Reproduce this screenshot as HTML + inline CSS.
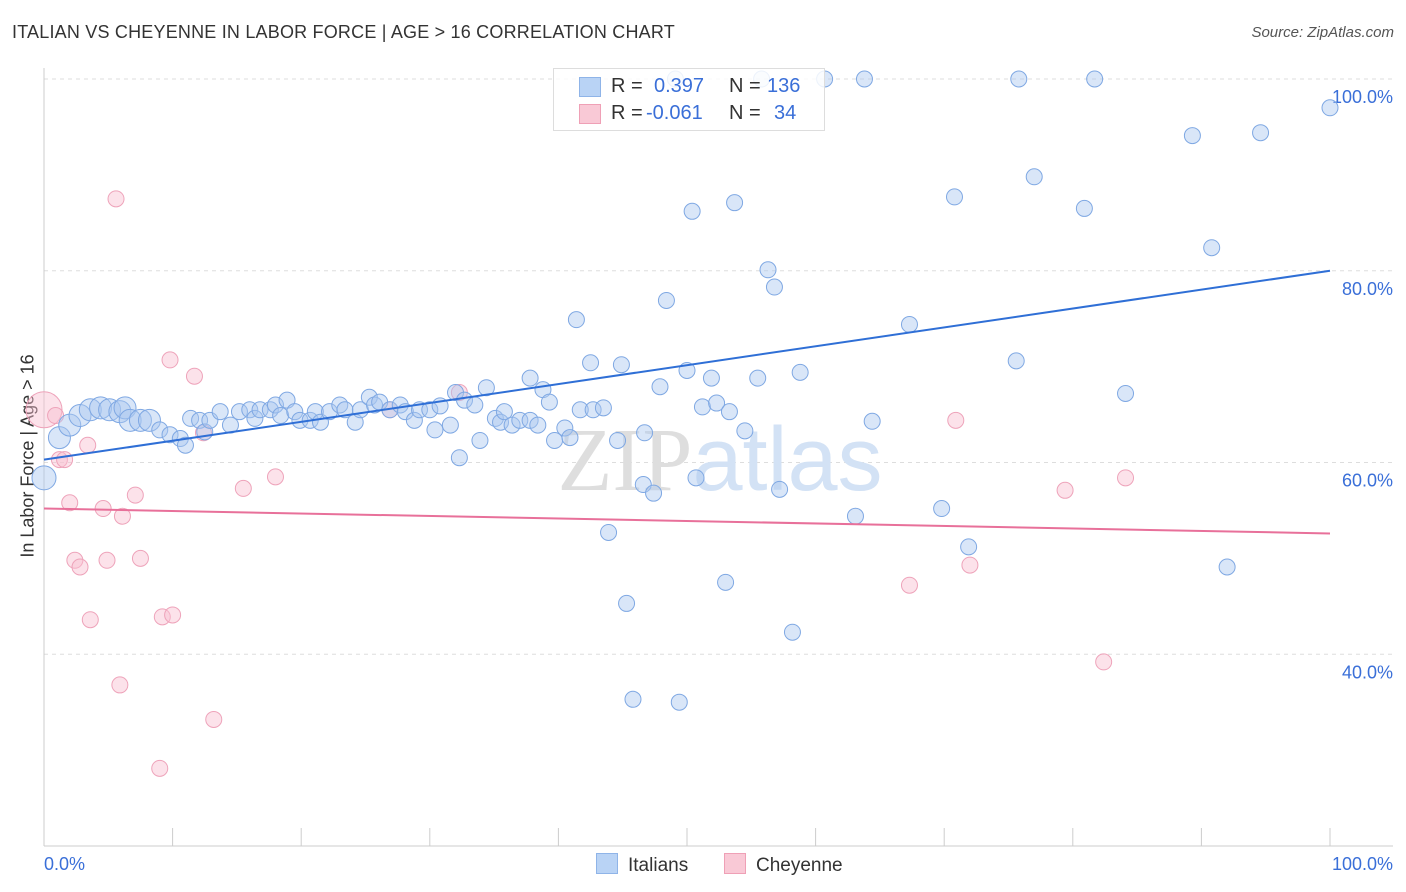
<!DOCTYPE html>
<html><head><meta charset="utf-8"><style>
body{margin:0;background:#fff;font-family:"Liberation Sans",sans-serif;}
#wrap{position:relative;width:1406px;height:892px;overflow:hidden;}
.t{position:absolute;white-space:nowrap;}
</style></head><body>
<div id="wrap">
<div class="t" style="left:12px;top:22px;font-size:18px;color:#333;letter-spacing:0.2px;">ITALIAN VS CHEYENNE IN LABOR FORCE | AGE &gt; 16 CORRELATION CHART</div>
<div class="t" style="right:12px;top:24px;font-size:15px;color:#555;font-style:italic;">Source: ZipAtlas.com</div>
<div class="t" style="left:28px;top:456px;font-size:18px;color:#333;transform:translate(-50%,-50%) rotate(-90deg);">In Labor Force | Age &gt; 16</div>
<svg id="svg" width="1406" height="892" style="position:absolute;left:0;top:0"></svg>
<div class="t" style="left:553px;top:68px;width:270px;height:61px;border:1px solid #ddd;background:rgba(255,255,255,0.85);font-size:20px;">
  <div style="position:absolute;left:25px;top:8px;width:20px;height:18px;background:#b9d3f5;border:1px solid #8fb4e8;"></div>
  <div class="t" style="left:57px;top:6px;color:#333;">R = </div><div class="t" style="left:100px;top:6px;color:#3a6fd8;">0.397</div>
  <div class="t" style="left:175px;top:6px;color:#333;">N = </div><div class="t" style="left:213px;top:6px;color:#3a6fd8;">136</div>
  <div style="position:absolute;left:25px;top:35px;width:20px;height:18px;background:#f9c9d6;border:1px solid #efa0b6;"></div>
  <div class="t" style="left:57px;top:33px;color:#333;">R = </div><div class="t" style="left:92px;top:33px;color:#3a6fd8;">-0.061</div>
  <div class="t" style="left:175px;top:33px;color:#333;">N = </div><div class="t" style="left:220px;top:33px;color:#3a6fd8;">34</div>
</div>
<div class="t" style="left:596px;top:853px;font-size:19px;color:#333;"><span style="display:inline-block;width:20px;height:19px;background:#b9d3f5;border:1px solid #8fb4e8;vertical-align:-3px;margin-right:10px;"></span>Italians</div>
<div class="t" style="left:724px;top:853px;font-size:19px;color:#333;"><span style="display:inline-block;width:20px;height:19px;background:#f9c9d6;border:1px solid #efa0b6;vertical-align:-3px;margin-right:10px;"></span>Cheyenne</div>
</div>
<script>
const yTicks=[40,60,80,100];
const yTickLabels=["40.0%","60.0%","80.0%","100.0%"];
const blueX=[0,1.2,2.0,2.8,3.6,4.4,5.1,5.9,6.3,6.7,7.5,8.2,9.0,9.8,10.6,11.0,11.4,12.1,12.5,12.9,13.7,14.5,15.2,16.0,16.4,16.8,17.6,18.0,18.4,18.9,19.5,19.9,20.7,21.1,21.5,22.2,23.0,23.4,24.2,24.6,25.3,25.7,26.1,26.9,27.7,28.1,28.8,29.2,30.0,30.4,30.8,31.6,32.0,32.3,32.7,33.5,33.9,34.4,35.1,35.5,35.8,36.4,37.0,37.8,37.8,38.4,38.8,39.3,39.7,40.5,40.9,41.4,41.7,42.5,42.7,43.5,43.9,44.6,44.9,45.3,45.8,46.6,46.7,47.4,47.9,48.4,49.4,50.0,50.4,50.7,51.2,51.9,52.3,53.0,53.3,53.7,54.5,55.5,56.3,56.8,57.2,58.2,58.8,60.7,63.1,63.8,64.4,67.3,69.8,70.8,71.9,75.6,75.8,77.0,80.9,81.7,84.1,89.3,90.8,92.0,94.6,100,49.1,55.8];
const blueY=[58.4,62.6,63.9,64.9,65.5,65.7,65.5,65.3,65.7,64.4,64.4,64.4,63.4,62.9,62.5,61.8,64.6,64.4,63.2,64.4,65.3,63.9,65.3,65.5,64.6,65.5,65.5,66.0,64.9,66.5,65.3,64.4,64.4,65.3,64.2,65.3,66.0,65.5,64.2,65.5,66.8,66.0,66.3,65.5,66.0,65.3,64.4,65.5,65.5,63.4,65.9,63.9,67.3,60.5,66.5,66.0,62.3,67.8,64.6,64.2,65.3,63.9,64.4,64.4,68.8,63.9,67.6,66.3,62.3,63.6,62.6,74.9,65.5,70.4,65.5,65.7,52.7,62.3,70.2,45.3,35.3,57.7,63.1,56.8,67.9,76.9,35.0,69.6,86.2,58.4,65.8,68.8,66.2,47.5,65.3,87.1,63.3,68.8,80.1,78.3,57.2,42.3,69.4,100,54.4,100,64.3,74.4,55.2,87.7,51.2,70.6,100,89.8,86.5,100,67.2,94.1,82.4,49.1,94.4,97.0,100,100];
const pinkX=[0,0.9,1.2,1.6,2.0,2.4,2.8,3.4,3.6,4.6,4.9,5.6,5.9,6.1,7.1,7.5,9.0,9.2,9.8,10.0,11.7,12.4,13.2,15.5,18.0,26.9,32.3,67.3,70.9,72.0,79.4,82.4,84.1];
const pinkY=[65.5,64.9,60.3,60.3,55.8,49.8,49.1,61.8,43.6,55.2,49.8,87.5,36.8,54.4,56.6,50.0,28.1,43.9,70.7,44.1,69.0,63.1,33.2,57.3,58.5,65.5,67.3,47.2,64.4,49.3,57.1,39.2,58.4];
const blueTrend=[60.3,80.0];
const pinkTrend=[55.2,52.6];
const X0=44,X1=1330,Y100=79,Y20=846;
const sx=v=>X0+(X1-X0)*v/100;
const sy=v=>Y20-(Y20-Y100)*(v-20)/80;
const svg=document.getElementById('svg');
const NS='http://www.w3.org/2000/svg';
function mk(tag,attrs){const e=document.createElementNS(NS,tag);for(const k in attrs)e.setAttribute(k,attrs[k]);svg.appendChild(e);return e;}
yTicks.forEach((t,i)=>{
  const g=mk('line',{x1:44,x2:1393,y1:sy(t),y2:sy(t),stroke:'#ddd','stroke-dasharray':'4,4'});
  
  
  const tx=mk('text',{x:1393,y:sy(t)+24,'text-anchor':'end','font-size':18,fill:'#3a6fd8','font-family':'Liberation Sans, sans-serif'});
  tx.textContent=yTickLabels[i];
  
  
});
const ax=mk('line',{x1:44,x2:44,y1:68,y2:846,stroke:'#ccc'});


const bx=mk('line',{x1:44,x2:1393,y1:846,y2:846,stroke:'#ccc'});


for(let i=1;i<=10;i++){const tk=mk('line',{x1:sx(i*10),x2:sx(i*10),y1:828,y2:846,stroke:'#ccc'});

}
[['0.0%',44,'start'],['100.0%',1393,'end']].forEach(a=>{const t=mk('text',{x:a[1],y:870,'text-anchor':a[2],'font-size':18,fill:'#3a6fd8','font-family':'Liberation Sans, sans-serif'});t.textContent=a[0];

});
const wm=mk('text',{x:720,y:490,'text-anchor':'middle','font-size':90,'font-family':'Liberation Sans, sans-serif'});
wm.innerHTML='<tspan fill="#dedede" font-family="Liberation Serif, serif">ZIP</tspan><tspan fill="#d3e2f5">atlas</tspan>';


pinkX.forEach((x,i)=>{const c=mk('circle',{cx:sx(x),cy:sy(pinkY[i]),r:i==0?18:8,fill:'rgba(249,190,208,0.45)',stroke:'#eea3ba','stroke-width':1});

});
blueX.forEach((x,i)=>{const c=mk('circle',{cx:sx(x),cy:sy(blueY[i]),r:i==0?12:(i<12?11:8),fill:'rgba(170,200,240,0.45)',stroke:'#7fa8e3','stroke-width':1});

});
const bl=mk('line',{x1:sx(0),y1:sy(blueTrend[0]),x2:sx(100),y2:sy(blueTrend[1]),stroke:'#2f6fd6','stroke-width':2});


const pl=mk('line',{x1:sx(0),y1:sy(pinkTrend[0]),x2:sx(100),y2:sy(pinkTrend[1]),stroke:'#e8709a','stroke-width':2});


</script>
</body></html>
